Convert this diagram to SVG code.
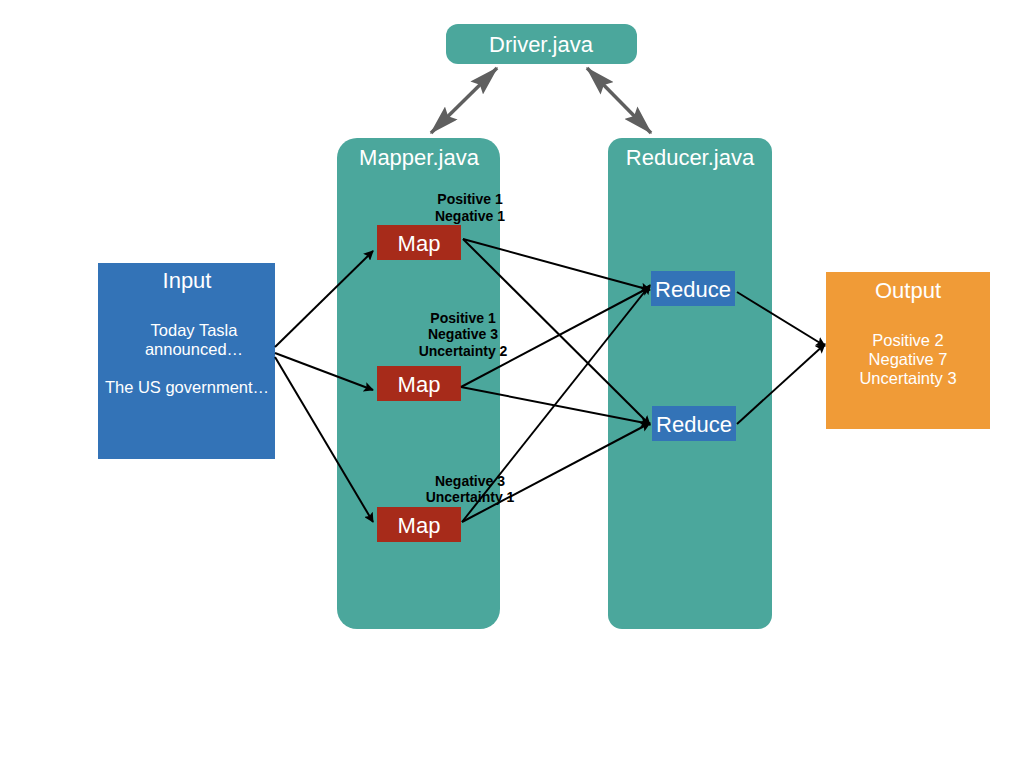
<svg xmlns="http://www.w3.org/2000/svg" width="1024" height="768" viewBox="0 0 1024 768">
<defs>
<style>
.teal{fill:#4ba79c}
.t{font-family:"Liberation Sans",Arial,sans-serif;fill:#fff;text-anchor:middle}
.big{font-size:22px}
.mid{font-size:16.5px}
.lbl{font-family:"Liberation Sans",Arial,sans-serif;font-size:14px;font-weight:bold;fill:#000;text-anchor:middle}
.c{stroke:#000;stroke-width:2;fill:none;marker-end:url(#ah)}
.d{stroke:#5f5f5f;stroke-width:3.5;fill:none;marker-start:url(#gh);marker-end:url(#gh)}
</style>
<marker id="ah" viewBox="0 0 10 10" refX="9" refY="5" markerWidth="10" markerHeight="10" orient="auto-start-reverse" markerUnits="userSpaceOnUse">
<path d="M0,0 L10,5 L0,10 L2,5 z" fill="#000"/>
</marker>
<marker id="gh" viewBox="0 0 20 12" refX="19" refY="6" markerWidth="30" markerHeight="18" orient="auto-start-reverse" markerUnits="userSpaceOnUse">
<path d="M0,0 L20,6 L0,12 L3,6 z" fill="#5f5f5f"/>
</marker>
</defs>
<rect width="1024" height="768" fill="#fff"/>
<g id="mapper-panel"><rect class="teal" x="337" y="138" width="163" height="491" rx="20"/><text class="t big" x="419" y="165">Mapper.java</text></g>
<g id="reducer-panel"><rect class="teal" x="608" y="138" width="164" height="491" rx="14"/><text class="t big" x="690" y="165">Reducer.java</text></g>
<g id="driver"><rect class="teal" x="446" y="24" width="191" height="40" rx="12"/><text class="t big" x="541" y="52">Driver.java</text></g>
<g id="input"><rect x="98" y="263" width="177" height="196" fill="#3373b7"/><text class="t big" x="187" y="288">Input</text><text class="t mid" x="194" y="336">Today Tasla</text><text class="t mid" x="194" y="355">announced…</text><text class="t mid" x="187" y="393">The US government…</text></g>
<g id="output"><rect x="826" y="272" width="164" height="157" fill="#f09b37"/><text class="t big" x="908" y="298">Output</text><text class="t mid" x="908" y="346">Positive 2</text><text class="t mid" x="908" y="365">Negative 7</text><text class="t mid" x="908" y="384">Uncertainty 3</text></g>
<g id="map1"><rect x="377" y="225" width="84" height="35" fill="#a72b1a"/><text class="t big" x="419" y="251">Map</text></g>
<g id="map2"><rect x="377" y="366" width="84" height="35" fill="#a72b1a"/><text class="t big" x="419" y="392">Map</text></g>
<g id="map3"><rect x="377" y="507" width="84" height="35" fill="#a72b1a"/><text class="t big" x="419" y="533">Map</text></g>
<g id="reduce1"><rect x="651" y="271" width="84" height="35" fill="#3373b7"/><text class="t big" x="693" y="297">Reduce</text></g>
<g id="reduce2"><rect x="652" y="406" width="84" height="35" fill="#3373b7"/><text class="t big" x="694" y="432">Reduce</text></g>
<g id="connectors">
<path class="d" d="M497,68 L431,133"/>
<path class="d" d="M587,68 L651,133"/>
<path class="c" d="M275,347 L373,251"/>
<path class="c" d="M275,353 L373,390"/>
<path class="c" d="M275,357 L373,522"/>
<path class="c" d="M463,239 L650,290"/>
<path class="c" d="M463,239 L650,425"/>
<path class="c" d="M461,387 L650,287"/>
<path class="c" d="M461,387 L650,424"/>
<path class="c" d="M462,522 L650,285"/>
<path class="c" d="M462,522 L650,423"/>
<path class="c" d="M737,292 L825,346"/>
<path class="c" d="M737,424 L825,344"/>
</g>
<g id="labels">
<text class="lbl" x="470" y="204">Positive 1</text>
<text class="lbl" x="470" y="221">Negative 1</text>
<text class="lbl" x="463" y="323">Positive 1</text>
<text class="lbl" x="463" y="339">Negative 3</text>
<text class="lbl" x="463" y="356">Uncertainty 2</text>
<text class="lbl" x="470" y="486">Negative 3</text>
<text class="lbl" x="470" y="502">Uncertainty 1</text>
</g>
</svg>
